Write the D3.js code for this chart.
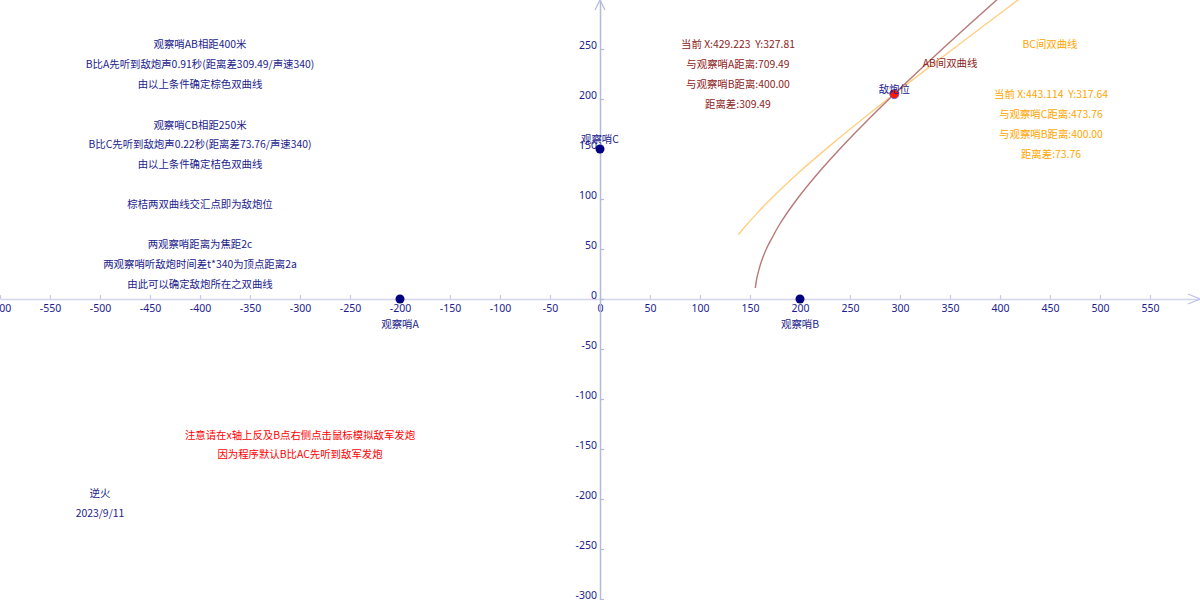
<!DOCTYPE html>
<html><head><meta charset="utf-8">
<script src="https://cdn.jsdelivr.net/npm/d3@7/dist/d3.min.js"></script>
<style>
html,body{margin:0;padding:0;background:#fff;overflow:hidden}
svg{display:block;font-family:"Noto Sans CJK SC","Noto Sans",sans-serif}
text{white-space:pre}
</style></head><body>
<svg id="c" width="1200" height="600"></svg>
<script>
// ---- data ----
const xTicks = [-600,-550,-500,-450,-400,-350,-300,-250,-200,-150,-100,-50,0,50,100,150,200,250,300,350,400,450,500,550];
const yTicks = [250,200,150,100,50,0,-50,-100,-150,-200,-250,-300];
const observers = [
  {name:"观察哨A", x:-200, y:0, lx:-200, ly:-25},
  {name:"观察哨B", x:200, y:0, lx:200, ly:-25},
  {name:"观察哨C", x:0, y:150, lx:0, ly:160}
];
const enemy = {name:"敌炮位", x:294.3, y:204.9};
// AB hyperbola (foci A,B; 2a = 309.49)
const curveAB = [[155.33,11],[156.66,20],[158.6,28],[161.21,37],[166.36,50],[172.5,62],[179.82,75],[197.13,100],[217.38,125],[239.80,150],[263.87,175],[289.15,200],[315.37,225],[342.30,250],[369.79,275],[397.73,300],[429.22,327.81]];
// BC hyperbola (foci C,B; 2a = 73.76)
const curveBC = [[138.34,64.21],[144.52,71.67],[156.93,85.63],[170.61,99.84],[197.13,124.92],[229.74,153.14],[270.51,186.28],[321.99,226.40],[387.42,276.03],[443.11,317.64]];
const leftNotes = [
  ["观察哨AB相距400米",44],["B比A先听到敌炮声0.91秒(距离差309.49/声速340)",64],["由以上条件确定棕色双曲线",84],
  ["观察哨CB相距250米",125],["B比C先听到敌炮声0.22秒(距离差73.76/声速340)",144],["由以上条件确定桔色双曲线",164],
  ["棕桔两双曲线交汇点即为敌炮位",204],
  ["两观察哨距离为焦距2c",244],["两观察哨听敌炮时间差t*340为顶点距离2a",264],["由此可以确定敌炮所在之双曲线",284]
];
const abInfo = ["当前 X:429.223  Y:327.81","与观察哨A距离:709.49","与观察哨B距离:400.00","距离差:309.49"];
const bcInfo = ["当前 X:443.114  Y:317.64","与观察哨C距离:473.76","与观察哨B距离:400.00","距离差:73.76"];
const redNotes = ["注意请在x轴上反及B点右侧点击鼠标模拟敌军发炮","因为程序默认B比AC先听到敌军发炮"];
const credits = ["逆火","2023/9/11"];

// ---- drawing ----
const W=1200,H=600;
const svg=d3.select("#c");
const x=d3.scaleLinear().domain([-600,600]).range([0,W]);
const y=d3.scaleLinear().domain([299,-301]).range([0,H]);
const NAVY="#1c1c8c", BROWN="#8e1d1d", ORANGE="#ffa500";
const fmt=d=>String(d);

// axes
const xAxis=d3.axisBottom(x).tickValues(xTicks).tickFormat(fmt).tickSizeInner(-4).tickSizeOuter(0).tickPadding(6);
const gx=svg.append("g").attr("transform",`translate(0,${y(0)})`).call(xAxis);
gx.select(".domain").attr("stroke","#d4d4ee").attr("stroke-width",1.5);
gx.selectAll(".tick line").attr("stroke","#c8c8e8").attr("stroke-width",1.2);
gx.selectAll(".tick text").attr("fill",NAVY).attr("font-size",10.5).attr("font-family","'Noto Sans',sans-serif");

const yAxis=d3.axisLeft(y).tickValues(yTicks).tickFormat(fmt).tickSizeInner(-4).tickSizeOuter(0).tickPadding(3);
const gy=svg.append("g").attr("transform",`translate(${x(0)},0)`).call(yAxis);
gy.select(".domain").attr("stroke","#b6b9de").attr("stroke-width",1.5);
gy.selectAll(".tick line").attr("stroke","#b6b9de").attr("stroke-width",1.2);
gy.selectAll(".tick text").attr("fill",NAVY).attr("font-size",10.5).attr("dy","-0.05em").attr("font-family","'Noto Sans',sans-serif");

// arrows
svg.append("path").attr("d",`M${W-12},${y(0)-5}L${W},${y(0)}L${W-12},${y(0)+5}`).attr("fill","none").attr("stroke","#c0c0e6").attr("stroke-width",1.2);
svg.append("path").attr("d",`M${x(0)-5},10L${x(0)},0L${x(0)+5},10`).attr("fill","none").attr("stroke","#b6b9de").attr("stroke-width",1.2);

// curves
const line=d3.line().x(d=>x(d[0])).y(d=>y(d[1])).curve(d3.curveCatmullRom);
svg.append("path").datum(curveBC).attr("d",line).attr("fill","none").attr("stroke","#ffcf82").attr("stroke-width",1.4);
svg.append("path").datum(curveAB).attr("d",line).attr("fill","none").attr("stroke","#b87878").attr("stroke-width",1.4);

// text helper
function txt(s,px,py,color,anchor){
  svg.append("text").attr("x",px).attr("y",py).attr("dy","0.35em").attr("text-anchor",anchor||"middle")
    .attr("font-size",10.4).attr("fill",color).text(s);
}
leftNotes.forEach(d=>txt(d[0],200,d[1],NAVY));
abInfo.forEach((s,i)=>txt(s,738,44+i*20,BROWN));
txt("AB间双曲线",950,63,BROWN);
txt("BC间双曲线",1050,44,ORANGE);
bcInfo.forEach((s,i)=>txt(s,1051,94+i*20,ORANGE));
redNotes.forEach((s,i)=>txt(s,300,435+i*19.5,"#ff0000"));
credits.forEach((s,i)=>txt(s,100,493+i*20,NAVY));

// observers
observers.forEach(o=>{
  svg.append("circle").attr("cx",x(o.x)).attr("cy",y(o.y)).attr("r",4.5).attr("fill","#000080");
});
observers.forEach(o=>txt(o.name,x(o.lx),y(o.ly),NAVY));
// enemy
svg.append("circle").attr("cx",x(enemy.x)).attr("cy",y(enemy.y)).attr("r",4.5).attr("fill","#ff1a00").attr("stroke","#6a5acd").attr("stroke-width",1);
txt(enemy.name,x(enemy.x),y(enemy.y)+5-10,NAVY);
</script></body></html>
